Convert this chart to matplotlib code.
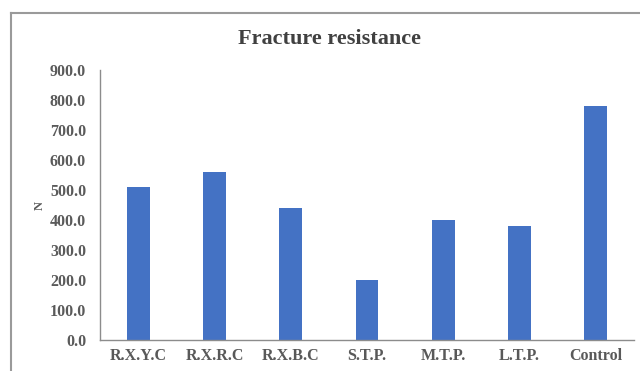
import matplotlib
matplotlib.use("Agg")
import matplotlib.pyplot as plt
from matplotlib.lines import Line2D

categories = ["R.X.Y.C", "R.X.R.C", "R.X.B.C", "S.T.P.", "M.T.P.", "L.T.P.", "Control"]
values = [510.0, 560.0, 440.0, 200.0, 400.0, 380.0, 780.0]
yticks = [0, 100, 200, 300, 400, 500, 600, 700, 800, 900]

plt.rcParams['font.family'] = ['Liberation Serif', 'DejaVu Serif']

fig = plt.figure(figsize=(6.4, 3.71), dpi=100)
ax = fig.add_axes([100/640, 1-340/371, 534/640, 270/371])

x = list(range(len(categories)))
ax.bar(x, values, width=0.3, color='#4472C4')
ax.set_xlim(-0.5, len(categories)-0.5)
ax.set_ylim(0, 900)
ax.set_yticks(yticks)
ax.set_yticklabels([f"{v:.1f}" for v in yticks], fontsize=11.5, fontweight='bold', color='#5a5a5a')
ax.set_xticks(x)
ax.set_xticklabels(categories, fontsize=11.5, fontweight='bold', color='#595959')
ax.tick_params(axis='both', length=0)
ax.tick_params(axis='x', pad=6)
ax.tick_params(axis='y', pad=10)
for s in ['top', 'right']:
    ax.spines[s].set_visible(False)
ax.spines['left'].set_color('#8c8c8c')
ax.spines['bottom'].set_color('#8c8c8c')
ax.spines['left'].set_linewidth(1.0)
ax.spines['bottom'].set_linewidth(1.0)
ax.set_ylabel("N", fontsize=9, fontweight='bold', color='#595959', labelpad=3)

fig.text(330/640, 1-39/371, "Fracture resistance", ha='center', va='center',
         fontsize=16, fontweight='bold', color='#404040')

# outer chart border
fig.add_artist(Line2D([11/640, 1.0], [1-13/371, 1-13/371], color='#9a9a9a', lw=1.5, transform=fig.transFigure))
fig.add_artist(Line2D([11/640, 11/640], [0, 1-13/371], color='#9a9a9a', lw=1.5, transform=fig.transFigure))

fig.savefig("out.png", dpi=100)
